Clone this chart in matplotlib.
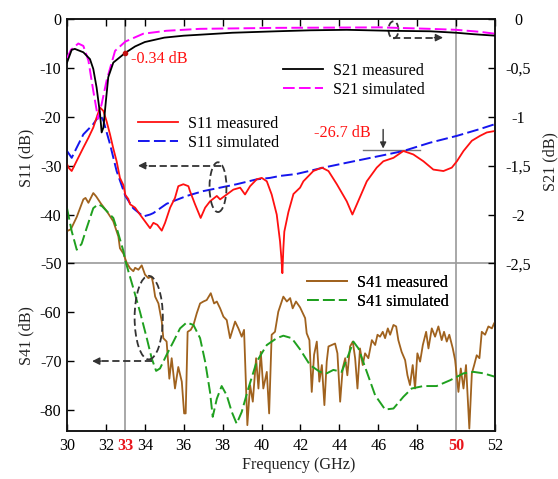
import matplotlib
matplotlib.use('Agg')
import matplotlib.pyplot as plt
import numpy as np
from matplotlib.patches import Ellipse

plt.rcParams['font.family'] = ['Liberation Serif', 'DejaVu Serif']
FS = 11.6
plt.rcParams['font.size'] = FS

# ---------------- data ----------------
s21_meas_f = [30, 30.24, 30.4, 30.84, 31.18, 31.35, 31.52, 31.7, 31.78, 31.87, 32.0, 32.12, 32.38,
              33.0, 33.5, 34.0, 35.0, 36.0, 36.84, 38.5, 40.78, 42.5, 44.38, 46.6, 48.66, 50.0, 50.9, 52.0]
s21_meas = [-0.445, -0.315, -0.305, -0.34, -0.41, -0.51, -0.70, -0.975, -1.16, -1.11, -0.835, -0.595, -0.445,
            -0.345, -0.28, -0.235, -0.19, -0.17, -0.16, -0.14, -0.125, -0.115, -0.11, -0.12, -0.125, -0.14, -0.155, -0.17]

s21_sim_f = [30.0, 30.2, 30.58, 30.84, 31.1, 31.35, 31.6, 31.78, 32.04, 32.47, 33.0, 33.92, 35.1, 36.84,
             40.78, 46.1, 48.66, 50.0, 51.2, 52.0]
s21_sim = [-0.40, -0.315, -0.25, -0.275, -0.425, -0.735, -1.02, -0.87, -0.625, -0.325, -0.23, -0.15, -0.12,
           -0.10, -0.09, -0.085, -0.10, -0.11, -0.13, -0.15]

s11_meas_f = [30.0, 30.1, 30.24, 30.5, 30.84, 31.1, 31.35, 31.55, 31.7, 31.87, 32.04, 32.21, 32.38, 32.55,
              32.72, 32.9, 33.0, 33.15, 33.24, 33.5, 33.75, 34.01, 34.27, 34.44, 34.64, 34.87, 35.04, 35.3,
              35.55, 35.72, 35.98, 36.24, 36.32, 36.58, 36.87, 37.1, 37.35, 37.7, 37.87, 38.21, 38.55, 38.9,
              39.15, 39.41, 39.75, 40.01, 40.27, 40.52, 40.78, 40.95, 41.02, 41.07, 41.12, 41.17, 41.38,
              41.64, 41.98, 42.15, 42.66, 43.1, 43.44, 43.87, 44.38, 44.67, 44.9, 45.41, 45.92, 46.26,
              46.78, 47.29, 47.8, 48.32, 48.83, 49.35, 49.78, 50.04, 50.38, 50.81, 51.23, 51.58, 52.0]
s11_meas = [-29.7, -30.5, -31.1, -29.0, -26.3, -24.3, -22.2, -19.8, -18.1, -18.8, -21.0, -23.6, -26.5, -29.1,
            -32.5, -34.0, -36.0, -36.8, -37.9, -38.6, -40.0, -41.4, -42.8, -41.7, -42.1, -43.3, -41.7, -38.6,
            -36.6, -34.2, -33.8, -34.2, -35.2, -37.9, -40.7, -38.6, -37.3, -36.2, -36.9, -35.9, -34.9, -34.5,
            -35.9, -34.2, -32.8, -32.5, -33.2, -35.9, -40.0, -45.5, -49.0, -52.0, -47.0, -43.5, -39.5,
            -35.8, -34.5, -33.2, -31.1, -30.4, -31.1, -33.8, -37.3, -40.0, -37.9, -33.2, -30.4, -29.1,
            -28.4, -27.0, -27.7, -29.1, -30.8, -31.1, -30.4, -29.1, -27.0, -24.9, -23.9, -23.2, -22.9]

s11_sim_f = [30.0, 30.24, 30.5, 30.84, 31.35, 31.7, 31.87, 32.21, 32.55, 33.0, 33.4, 33.92, 34.27, 34.44,
             35.12, 36.15, 37.01, 37.87, 38.72, 39.75, 40.44, 40.95, 41.8, 43.18, 44.38, 46.09, 47.29,
             48.66, 50.04, 51.23, 52.0]
s11_sim = [-27.0, -28.4, -26.3, -23.6, -21.5, -19.5, -20.8, -25.6, -31.1, -36.2, -38.7, -40.4, -40.0, -39.7,
           -37.8, -36.2, -35.2, -34.5, -33.8, -32.8, -32.5, -32.1, -31.7, -30.4, -29.4, -28.0, -27.0,
           -25.3, -23.9, -22.5, -21.5]

s41_meas_f = [30.0, 30.2, 30.5, 30.84, 30.95, 31.1, 31.35, 31.5, 31.75, 32.04, 32.38, 32.64, 32.72, 32.9,
              33.07, 33.24, 33.41, 33.5, 33.67, 33.84, 34.01, 34.18, 34.35, 34.44, 34.53, 34.7, 34.87, 34.95,
              35.12, 35.26, 35.38, 35.55, 35.72, 35.9, 36.02, 36.1, 36.2, 36.36, 36.5, 36.67, 36.84, 37.01,
              37.18, 37.39, 37.56, 37.7, 37.87, 38.04, 38.21, 38.38, 38.64, 38.81, 38.98, 39.1, 39.27, 39.41,
              39.55, 39.72, 39.84, 39.96, 40.09, 40.27, 40.39, 40.52, 40.69, 40.86, 41.12, 41.3, 41.47, 41.6,
              41.77, 41.98, 42.24, 42.32, 42.46, 42.58, 42.7, 42.84, 42.97, 43.1, 43.23, 43.35, 43.44, 43.61,
              43.78, 43.9, 44.04, 44.17, 44.3, 44.41, 44.55, 44.69, 44.81, 44.93, 45.06, 45.2, 45.32, 45.49,
              45.67, 45.84, 45.96, 46.09, 46.23, 46.35, 46.49, 46.61, 46.78, 46.92, 47.03, 47.2, 47.38, 47.5,
              47.63, 47.77, 47.89, 48.01, 48.15, 48.29, 48.46, 48.58, 48.75, 48.92, 49.09, 49.26, 49.38, 49.52,
              49.65, 49.83, 49.95, 50.12, 50.24, 50.38, 50.51, 50.68, 50.81, 50.93, 51.06, 51.2, 51.32, 51.49,
              51.66, 51.84, 51.95, 52.0]
s41_meas = [-43.4, -43.0, -40.5, -36.9, -36.6, -37.6, -35.6, -36.3, -37.8, -39.3, -41.4, -44.5, -46.9, -48.0,
            -49.9, -51.0, -51.6, -50.9, -51.3, -50.4, -52.3, -53.0, -52.7, -54.4, -56.8, -58.2, -61.9, -65.3,
            -66.0, -73.6, -69.4, -75.6, -71.2, -74.2, -80.7, -80.7, -64.0, -63.6, -62.6, -60.2, -58.2, -57.8,
            -57.5, -56.1, -58.2, -57.8, -59.2, -60.9, -61.6, -65.3, -61.9, -63.3, -65.0, -63.6, -83.1, -74.9,
            -78.3, -69.4, -75.6, -68.1, -75.6, -72.2, -80.7, -64.6, -64.0, -59.9, -56.8, -57.8, -57.1, -59.2,
            -57.8, -59.0, -61.2, -64.3, -65.7, -76.3, -68.7, -66.0, -74.2, -70.8, -79.0, -70.1, -67.0, -66.7,
            -66.4, -68.4, -78.3, -71.5, -69.4, -72.9, -67.0, -66.0, -69.4, -75.6, -67.4, -70.8, -68.4, -69.4,
            -65.7, -66.7, -64.6, -65.0, -64.0, -65.3, -63.3, -64.6, -62.6, -62.9, -65.7, -68.1, -69.8, -72.9,
            -74.9, -70.8, -75.6, -68.4, -70.1, -66.7, -64.0, -67.4, -63.3, -65.0, -62.9, -65.7, -64.0, -66.0,
            -64.6, -67.4, -69.8, -76.3, -71.5, -75.6, -70.8, -83.8, -72.5, -70.8, -68.8, -69.4, -64.0, -64.6,
            -62.9, -63.3, -62.3, -62.0]

s41_sim_f = [30.0, 30.24, 30.5, 30.75, 30.99, 31.35, 31.6, 31.8, 32.04, 32.38, 32.6, 32.9, 33.0, 33.41,
             33.75, 34.1, 34.35, 34.58, 34.78, 35.12, 35.47, 35.81, 36.15, 36.5, 36.84, 37.1, 37.35, 37.49,
             37.7, 37.95, 38.21, 38.47, 38.72, 38.98, 39.32, 39.75, 40.27, 40.78, 41.12, 41.55, 41.98, 42.49,
             43.0, 43.35, 43.69, 44.12, 44.46, 44.72, 44.98, 45.41, 45.84, 46.35, 46.78, 47.29, 47.72, 48.32,
             49.0, 49.7, 50.38, 50.9, 51.41, 52.0]
s41_sim = [-38.7, -43.4, -47.2, -46.0, -43.0, -38.7, -37.9, -38.3, -39.3, -40.7, -43.4, -47.5, -49.5, -55.1,
           -59.9, -65.3, -69.4, -72.0, -71.5, -68.7, -66.0, -63.3, -62.1, -62.6, -65.3, -70.1, -76.3, -81.4,
           -77.7, -75.1, -77.0, -80.4, -82.8, -80.4, -75.6, -70.1, -66.7, -65.3, -64.8, -65.3, -67.6, -70.8,
           -72.2, -72.5, -71.8, -72.2, -68.8, -66.0, -67.4, -72.2, -77.0, -79.9, -79.7, -77.3, -75.6, -75.1,
           -75.1, -73.9, -72.5, -72.2, -72.5, -73.2]

x_ticks = [30, 32, 33, 34, 36, 38, 40, 42, 44, 46, 48, 50, 52]
x_ticklabels = ['30', '32', '33', '34', '36', '38', '40', '42', '44', '46', '48', '50', '52']
highlight_f = [33, 50]
y_ticks = [0, -10, -20, -30, -40, -50, -60, -70, -80]
y_ticklabels = ['0', '-10', '-20', '-30', '-40', '-50', '-60', '-70', '-80']
y2_ticks = [0, -0.5, -1, -1.5, -2, -2.5]
y2_ticklabels = ['0', '-0,5', '-1', '-1,5', '-2', '-2,5']

# ---------------- styles ----------------
RED = '#ff1010'
BLUE = '#1515ee'
MAG = '#ff00ff'
BROWN = '#a0621e'
GREEN = '#1fa01f'
GREY = '#9a9a9a'
DASH = (0, (6, 2.2))

YLO = -84.3
fig = plt.figure(figsize=(5.58, 4.79), dpi=100)
ax = fig.add_axes([0.1201, 0.1002, 0.767, 0.860])
ax2 = ax.twinx()
ax.set_xlim(30, 52)
ax.set_ylim(YLO, 0)
ax2.set_ylim(YLO / 20.0, 0)

# reference lines
ax.axhline(-50, color=GREY, lw=1.2, zorder=1)
for f in highlight_f:
    ax.axvline(f, color=GREY, lw=1.2, zorder=1)

# curves
l_s11m, = ax.plot(s11_meas_f, s11_meas, color=RED, lw=1.3, zorder=4)
l_s11s, = ax.plot(s11_sim_f, s11_sim, color=BLUE, lw=1.4, ls=DASH, zorder=3)
l_s41m, = ax.plot(s41_meas_f, s41_meas, color=BROWN, lw=1.3, zorder=3)
l_s41s, = ax.plot(s41_sim_f, s41_sim, color=GREEN, lw=1.4, ls=DASH, zorder=4)
l_s21s, = ax2.plot(s21_sim_f, s21_sim, color=MAG, lw=1.4, ls=DASH, zorder=3)
l_s21m, = ax2.plot(s21_meas_f, s21_meas, color='black', lw=1.3, zorder=4)

# marker -0.34 dB
ax2.plot([33], [np.interp(33, s21_meas_f, s21_meas)], 'o', color='#c01010', ms=3, zorder=5)
ax.text(33.3, -8.1, '-0.34 dB', color=RED, fontsize=FS, va='center', ha='left')

# -26.7 dB annotation
ax.text(42.7, -23.3, '-26.7 dB', color=RED, fontsize=FS, va='center', ha='left')
ax.plot([45.2, 48.15], [-26.8, -26.8], color='#777777', lw=1.0, zorder=2)
ax.annotate('', xy=(46.25, -26.5), xytext=(46.25, -22.6),
            arrowprops=dict(arrowstyle='-|>', color='#333333', lw=1.0, mutation_scale=9,
                            shrinkA=0, shrinkB=0))

# ellipses + dashed arrows
def ell(cx, cy, w, h):
    ax.add_patch(Ellipse((cx, cy), w, h, fill=False, ec='#333333', lw=1.3, ls=(0, (4, 2)), zorder=6))

def darrow(x0, x1, y):
    d = 0.45 if x1 > x0 else -0.45
    ax.plot([x0, x1 - d], [y, y], color='#333333', lw=1.3, ls=(0, (4, 2)), zorder=6)
    ax.annotate('', xy=(x1, y), xytext=(x1 - d, y),
                arrowprops=dict(arrowstyle='-|>', color='#333333', lw=1.0, mutation_scale=11,
                                shrinkA=0, shrinkB=0), zorder=6)

ell(46.78, -2.2, 0.51, 3.5)
darrow(46.78, 49.33, -3.8)
ell(37.76, -34.4, 0.87, 10.2)
darrow(37.9, 33.65, -30.0)
ell(34.2, -61.1, 1.45, 17.1)
darrow(34.37, 31.29, -70.0)

# ticks
ax.set_xticks(x_ticks)
ax.set_xticklabels(x_ticklabels)
for t, lab in zip(ax.xaxis.get_major_ticks(), x_ticks):
    if lab in highlight_f:
        t.tick1line.set_visible(False)
        t.tick2line.set_visible(False)
        t.label1.set_color('#e8141b')
        t.label1.set_fontweight('bold')
ax.set_yticks(y_ticks)
ax.set_yticklabels(y_ticklabels)
ax.tick_params(axis='x', direction='in', length=5, width=1, top=True, pad=5, labelsize=FS)
ax.tick_params(axis='y', direction='in', length=5, width=1, pad=4, labelsize=FS)
ax2.set_yticks(y2_ticks)
ax2.set_yticklabels(y2_ticklabels)
ax2.tick_params(axis='y', direction='in', length=5, width=1, pad=17, labelsize=FS)
for lbl in ax2.get_yticklabels():
    lbl.set_horizontalalignment('center')

for a in (ax, ax2):
    for s in a.spines.values():
        s.set_linewidth(1.1)
        s.set_color('#111111')

# axis labels
ax.text(-0.096, 0.663, 'S11 (dB)', transform=ax.transAxes, rotation=90, ha='center', va='center',
        fontsize=FS, color='#222222')
ax.text(-0.096, 0.231, 'S41 (dB)', transform=ax.transAxes, rotation=90, ha='center', va='center',
        fontsize=FS, color='#222222')
ax.text(1.13, 0.653, 'S21 (dB)', transform=ax.transAxes, rotation=90, ha='center', va='center',
        fontsize=FS, color='#222222')
fig.text(298.5 / 558, 1 - 465 / 479, 'Frequency (GHz)', ha='center', va='center', fontsize=FS,
         color='#222222')

# legends
def leg(handles, labels, x, y):
    lg = ax.legend(handles, labels, loc='upper left', bbox_to_anchor=(x, y),
                   bbox_transform=fig.transFigure, frameon=False, fontsize=FS,
                   handlelength=2.5, handletextpad=0.6, borderpad=0, borderaxespad=0,
                   labelspacing=0.17)
    ax.add_artist(lg)
    return lg

leg([l_s21m, l_s21s], ['S21 measured', 'S21 simulated'], 283 / 558, 1 - 63 / 479)
leg([l_s11m, l_s11s], ['S11 measured', 'S11 simulated'], 138 / 558, 1 - 116 / 479)
leg([l_s41m, l_s41s], ['S41 measured', 'S41 simulated'], 307 / 558, 1 - 275 / 479)

fig.savefig('out.png', dpi=100)
